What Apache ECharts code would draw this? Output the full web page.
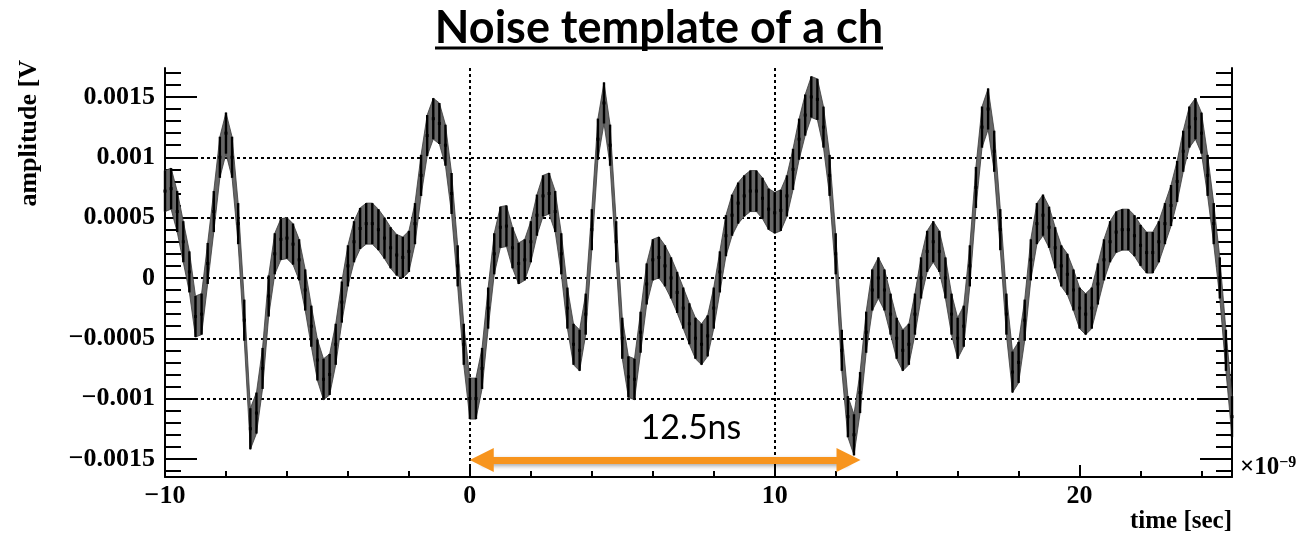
<!DOCTYPE html>
<html>
<head>
<meta charset="utf-8">
<script src="https://cdn.jsdelivr.net/npm/echarts@6/dist/echarts.min.js"></script>
<style>
  html, body { margin: 0; padding: 0; background: #fff; }
  #chart { width: 1300px; height: 535px; }
</style>
</head>
<body>
<div id="chart"></div>
<script>
// sample grid of the template (ns)
const t0 = -10;
const dt = 0.2;

// amplitude [V], every 0.2 ns from -10 to 25 ns
const amplitude = [
  0.00072, 0.00074, 0.00055, 0.00030, 0.00005, -0.00032, -0.00030, 0.00012, 0.00055, 0.00100,
  0.00120, 0.00100, 0.00045, -0.00035, -0.00125, -0.00112, -0.00075, -0.00015, 0.00020, 0.00032,
  0.00033, 0.00028, 0.00015, -0.00010, -0.00040, -0.00068, -0.00084, -0.00080, -0.00055, -0.00020,
  0.00010, 0.00030, 0.00041, 0.00045, 0.00045, 0.00040, 0.00033, 0.00025, 0.00019, 0.00017,
  0.00022, 0.00045, 0.00085, 0.00118, 0.00132, 0.00128, 0.00110, 0.00070, 0.00010, -0.00055,
  -0.00100, -0.00100, -0.00075, -0.00025, 0.00020, 0.00042, 0.00043, 0.00025, 0.00012, 0.00015,
  0.00030, 0.00052, 0.00068, 0.00070, 0.00055, 0.00020, -0.00025, -0.00055, -0.00060, -0.00030,
  0.00040, 0.00115, 0.00145, 0.00110, 0.00030, -0.00050, -0.00082, -0.00084, -0.00045, -0.00005,
  0.00015, 0.00017, 0.00010, 0.00000, -0.00012, -0.00025, -0.00038, -0.00050, -0.00055, -0.00048,
  -0.00025, 0.00005, 0.00035, 0.00052, 0.00062, 0.00068, 0.00072, 0.00072, 0.00066, 0.00057,
  0.00054, 0.00056, 0.00068, 0.00090, 0.00115, 0.00135, 0.00150, 0.00148, 0.00125, 0.00085,
  0.00020, -0.00060, -0.00115, -0.00130, -0.00095, -0.00045, -0.00010, 0.00000, -0.00010, -0.00030,
  -0.00050, -0.00060, -0.00055, -0.00030, 0.00000, 0.00022, 0.00030, 0.00022, 0.00000, -0.00030,
  -0.00050, -0.00040, 0.00010, 0.00075, 0.00125, 0.00140, 0.00105, 0.00040, -0.00030, -0.00078,
  -0.00070, -0.00035, 0.00015, 0.00045, 0.00052, 0.00042, 0.00025, 0.00010, 0.00003, -0.00010,
  -0.00025, -0.00030, -0.00025, -0.00005, 0.00015, 0.00030, 0.00038, 0.00040, 0.00040, 0.00035,
  0.00027, 0.00021, 0.00021, 0.00030, 0.00045, 0.00060, 0.00080, 0.00105, 0.00125, 0.00132,
  0.00120, 0.00085, 0.00045, 0.00000, -0.00060, -0.00115
];
// half length of the error bars [V]
const errHalf = 0.00017;

const xTicks = [-10, 0, 10, 20];
const yTicks = [-0.0015, -0.001, -0.0005, 0, 0.0005, 0.001, 0.0015];

// orange period arrow (tip to tip about 0 .. 12.8 ns)
const arrowSpan = [0.39, 12.42];
const arrowLevel = -0.00151;
const arrowText = '12.5ns';

const points = amplitude.map((v, i) => [+(t0 + i * dt).toFixed(1), v]);
// neighbouring pairs, for the grey band between the error bars
const segments = points.slice(0, -1).map((p, i) => [p[0], p[1], points[i + 1][0], points[i + 1][1]]);

const serif = '"Liberation Serif", "DejaVu Serif", serif';
const minus = '\u2212';
function fmtY(v) {
  if (v === 0) return '0';
  return (v < 0 ? minus : '') + String(Math.abs(+v.toPrecision(4)));
}
function fmtX(v) {
  return (v < 0 ? minus : '') + Math.abs(v);
}

function yAxisDef(pos, main) {
  return {
    type: 'value',
    position: pos,
    min: -0.00165,
    max: 0.00174,
    minInterval: 0.0005,
    maxInterval: 0.0005,
    axisLine: { show: true, onZero: false, lineStyle: { color: '#000', width: 2 } },
    axisTick: { show: true, inside: true, length: 32, customValues: yTicks, lineStyle: { color: '#000', width: 2 } },
    minorTick: { show: true, splitNumber: 5, length: 16, lineStyle: { color: '#000', width: 2 } },
    axisLabel: {
      show: main, customValues: yTicks, formatter: fmtY, margin: 10,
      fontFamily: serif, fontWeight: 'bold', fontSize: 26, color: '#000'
    },
    splitLine: {
      show: main, showMinLine: false, showMaxLine: false,
      lineStyle: { color: '#000', width: 2, type: [3, 3] }
    }
  };
}

let chart = echarts.init(document.getElementById('chart'));
chart.setOption({
  animation: false,
  grid: { left: 165, right: 68, top: 68, bottom: 58 },
  xAxis: {
    type: 'value',
    min: -10,
    max: 25,
    interval: 10,
    axisLine: { onZero: false, lineStyle: { color: '#000', width: 2 } },
    axisTick: { inside: true, length: 12, customValues: xTicks, lineStyle: { color: '#000', width: 2 } },
    minorTick: { show: true, splitNumber: 5, length: 6, lineStyle: { color: '#000', width: 2 } },
    axisLabel: {
      customValues: xTicks, formatter: fmtX, margin: 6,
      fontFamily: serif, fontWeight: 'bold', fontSize: 26, color: '#000'
    },
    splitLine: {
      show: true, showMinLine: false, showMaxLine: false,
      lineStyle: { color: '#000', width: 2, type: [3, 3] }
    }
  },
  yAxis: [yAxisDef('left', true), yAxisDef('right', false)],
  graphic: [
    {
      type: 'text', x: 659, y: 28,
      style: {
        text: 'Noise template of a ch', font: 'bold 45px Lato', fill: '#000',
        textAlign: 'center', textVerticalAlign: 'middle', align: 'center', verticalAlign: 'middle'
      }
    },
    { type: 'line', shape: { x1: 435, y1: 48, x2: 883, y2: 48 }, style: { stroke: '#000', lineWidth: 3 } },
    {
      type: 'text', x: 29, y: 60, rotation: Math.PI / 2,
      style: {
        text: 'amplitude [V', font: 'bold 26px ' + serif, fill: '#000',
        textAlign: 'right', textVerticalAlign: 'middle', align: 'right', verticalAlign: 'middle'
      }
    },
    {
      type: 'text', x: 1232, y: 534,
      style: {
        text: 'time [sec]', font: 'bold 25px ' + serif, fill: '#000',
        textAlign: 'right', textVerticalAlign: 'bottom', align: 'right', verticalAlign: 'bottom'
      }
    },
    {
      type: 'text', x: 1240, y: 480,
      style: {
        text: '{a|\u00d710}{b|' + minus + '9}',
        rich: {
          a: { fontFamily: serif, fontWeight: 'bold', fontSize: 25, color: '#000' },
          b: { fontFamily: serif, fontWeight: 'bold', fontSize: 16, color: '#000', verticalAlign: 'top' }
        },
        textVerticalAlign: 'bottom', verticalAlign: 'bottom'
      }
    }
  ],
  series: [
    {
      // grey band joining neighbouring error bars
      type: 'custom',
      z: 1,
      silent: true,
      data: segments,
      renderItem: function (params, api) {
        let ta = api.value(0), va = api.value(1), tb = api.value(2), vb = api.value(3);
        return {
          type: 'polygon',
          shape: {
            points: [
              api.coord([ta, va + errHalf]), api.coord([tb, vb + errHalf]),
              api.coord([tb, vb - errHalf]), api.coord([ta, va - errHalf])
            ]
          },
          style: { fill: '#666', stroke: '#3a3a3a', lineWidth: 0.8 }
        };
      }
    },
    {
      // vertical error bars
      type: 'custom',
      z: 2,
      silent: true,
      data: points,
      renderItem: function (params, api) {
        let t = api.value(0), v = api.value(1);
        let top = api.coord([t, v + errHalf]);
        let bot = api.coord([t, v - errHalf]);
        return {
          type: 'line',
          shape: { x1: top[0], y1: top[1], x2: bot[0], y2: bot[1] },
          style: { stroke: '#000', lineWidth: 2.4 }
        };
      }
    },
    {
      type: 'line',
      z: 3,
      silent: true,
      data: points,
      symbol: 'rect',
      symbolSize: 3,
      itemStyle: { color: '#000' },
      lineStyle: { color: '#000', width: 1, opacity: 0 },
      markLine: {
        silent: true,
        symbol: ['triangle', 'triangle'],
        symbolSize: [24, 24],
        label: { show: false },
        lineStyle: {
          color: '#F7941D', width: 7, type: 'solid', opacity: 1,
          shadowBlur: 4, shadowColor: 'rgba(0,0,0,0.35)', shadowOffsetY: 2
        },
        data: [[{ coord: [arrowSpan[0], arrowLevel] }, { coord: [arrowSpan[1], arrowLevel] }]]
      },
      markPoint: {
        silent: true,
        symbol: 'rect',
        symbolSize: 1,
        itemStyle: { color: 'rgba(0,0,0,0)' },
        label: { show: true, position: 'inside', formatter: arrowText, fontFamily: 'Lato', fontSize: 34, color: '#000' },
        data: [{ coord: [7.25, -0.00124] }]
      }
    }
  ]
});
</script>
</body>
</html>
